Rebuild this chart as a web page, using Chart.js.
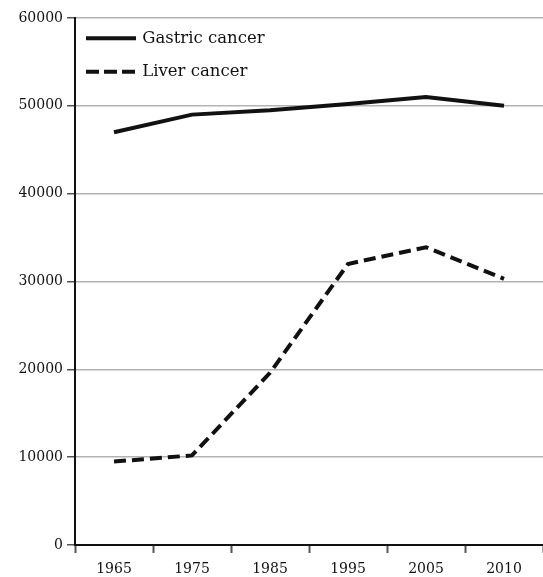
<!DOCTYPE html>
<html>
<head>
<meta charset="utf-8">
<script src="https://cdn.jsdelivr.net/npm/chart.js@4.4.1/dist/chart.umd.min.js"></script>
<style>
  html, body { margin: 0; padding: 0; background: #fff; overflow: hidden; }
  #wrap { width: 543px; height: 577px; }
</style>
</head>
<body>
<div id="wrap"><canvas id="c" width="543" height="577"></canvas></div>
<script>
const years = ['1965', '1975', '1985', '1995', '2005', '2010'];
const gastricCancer = [47000, 49000, 49500, 50200, 51000, 50000];
const liverCancer = [9500, 10200, 19600, 32000, 33900, 30300];
const yTicks = [0, 10000, 20000, 30000, 40000, 50000, 60000];

const FONT = "'DejaVu Serif', 'Liberation Serif', serif";

const legendShift = {
  id: 'legendShift',
  beforeDraw(chart) {
    const lg = chart.legend;
    if (!lg || lg._shifted) return;
    lg.left = chart.chartArea.left - 4;
    lg.top = chart.chartArea.top - 5;
    lg._shifted = true;
  }
};

new Chart(document.getElementById('c'), {
  type: 'line',
  data: {
    labels: years,
    datasets: [
      {
        label: 'Gastric cancer',
        data: gastricCancer,
        borderColor: '#111',
        backgroundColor: '#111',
        borderWidth: 4,
        pointRadius: 0,
        tension: 0,
        fill: false
      },
      {
        label: 'Liver cancer',
        data: liverCancer,
        borderColor: '#111',
        backgroundColor: '#111',
        borderWidth: 4,
        borderDash: [12, 6],
        pointRadius: 0,
        tension: 0,
        fill: false
      }
    ]
  },
  plugins: [legendShift],
  options: {
    responsive: false,
    animation: false,
    devicePixelRatio: 1,
    layout: { padding: { top: 18, right: 0, bottom: 0, left: 0 } },
    plugins: {
      tooltip: { enabled: false },
      legend: {
        position: 'chartArea',
        align: 'start',
        labels: {
          usePointStyle: true,
          pointStyle: 'line',
          pointStyleWidth: 46,
          color: '#111',
          padding: 17,
          font: { family: FONT, size: 16.5 },
          generateLabels: (chart) => {
            const items = Chart.defaults.plugins.legend.labels.generateLabels(chart);
            items.forEach((it) => {
              const ds = chart.data.datasets[it.datasetIndex];
              it.lineWidth = 4;
              it.strokeStyle = '#111';
              it.lineCap = 'square';
              it.lineDash = ds.borderDash ? [9, 9] : [];
              it.pointStyle = 'line';
            });
            return items;
          }
        }
      }
    },
    scales: {
      x: {
        offset: true,
        grid: {
          offset: true,
          drawOnChartArea: false,
          drawTicks: true,
          tickLength: 8,
          tickColor: '#555',
          tickWidth: 2
        },
        border: { color: '#111', width: 2 },
        ticks: {
          color: '#111',
          padding: 8,
          maxRotation: 0,
          autoSkip: false,
          font: { family: FONT, size: 14 }
        },
        afterFit: (s) => { s.height = 32; }
      },
      y: {
        min: 0,
        max: 60000,
        afterBuildTicks: (s) => { s.ticks = yTicks.map(v => ({ value: v })); },
        grid: {
          color: '#b3b3b3',
          lineWidth: 1.5,
          tickLength: 8,
          tickColor: '#555',
          tickWidth: 1.5
        },
        border: { color: '#111', width: 2 },
        ticks: {
          color: '#111',
          padding: 4,
          font: { family: FONT, size: 14 },
          callback: (v) => String(v)
        },
        afterFit: (s) => { s.width = 75; }
      }
    }
  }
});
</script>
</body>
</html>
